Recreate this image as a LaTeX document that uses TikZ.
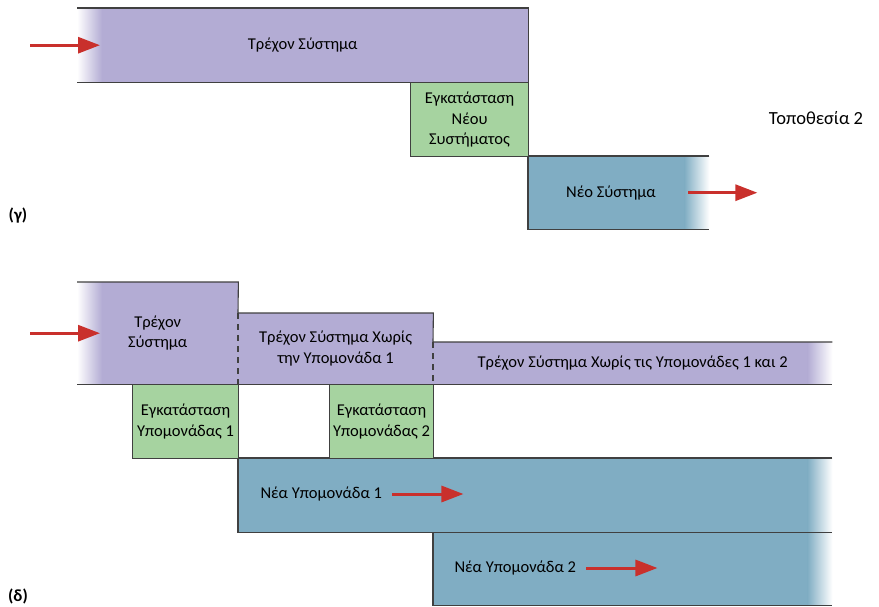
\documentclass[tikz,border=0pt]{standalone}
\usepackage{fontspec}
\setmainfont{Carlito}
\usetikzlibrary{arrows.meta,calc,positioning}
\definecolor{curfill}{HTML}{B3ACD4}
\definecolor{instfill}{HTML}{A6D3A0}
\definecolor{newfill}{HTML}{80ADC3}
\definecolor{edgegray}{HTML}{404040}
\definecolor{arrowred}{HTML}{C9302C}

\begin{document}
\begin{tikzpicture}[
  x=1pt,
  y=-1pt,
  font=\fontsize{16.5}{20.5}\selectfont,
  >={Triangle[length=22pt,width=16pt]},
  bar/.style={inner sep=0pt, anchor=north west, align=center},
  inst/.style={draw=edgegray, line width=1.1pt, fill=instfill, inner sep=1pt, anchor=north west, align=center},
  edge/.style={draw=edgegray, line width=1.1pt},
  split/.style={dash pattern=on 6pt off 5pt},
  flow/.style={->, draw=arrowred, line width=3pt},
  tag/.style={font=\fontsize{17}{20}\selectfont\bfseries}
]
  \useasboundingbox (0,0) rectangle (879,606);

  \node[bar, fill=curfill, minimum width=451pt, minimum height=74pt] (curg) at (77,8) {Τρέχον Σύστημα};
  \node[bar, fill=newfill, minimum width=181pt, minimum height=73pt] (newg) at (528,156) {};
  \shade[left color=white, right color=curfill] (curg.north west) rectangle ($(curg.south west)+(25,0)$);
  \shade[left color=newfill, right color=white] ($(newg.north east)+(-25,0)$) rectangle (newg.south east);
  \draw[edge] (curg.north west) -- (curg.north east) -- (curg.south east) -- (curg.south west);
  \draw[edge] (newg.north east) -- (newg.north west) -- (newg.south west) -- (newg.south east);
  \node[inst, minimum width=118pt, minimum height=74pt] (instg) at (410,82) {Εγκατάσταση\\Νέου\\Συστήματος};
  \node (newgt) at (611,193) {Νέο Σύστημα};
  \node[font=\fontsize{18.5}{22}\selectfont] (site) at (816,118) {Τοποθεσία 2};
  \node[tag] (tagg) at (18,216) {(γ)};
  \draw[flow] ($(curg.west)+(-47,0)$) -- ($(curg.west)+(23,0)$);
  \draw[flow] ($(newg.east)+(-21,0)$) -- ($(newg.east)+(48,0)$);

  \node[bar, fill=curfill, minimum width=161pt, minimum height=102pt] (curd1) at (77,282) {Τρέχον\\Σύστημα};
  \node[bar, fill=curfill, minimum width=195pt, minimum height=71pt] (curd2) at (238,313) {Τρέχον Σύστημα Χωρίς\\την Υπομονάδα 1};
  \node[bar, fill=curfill, minimum width=399pt, minimum height=42pt] (curd3) at (433,342) {Τρέχον Σύστημα Χωρίς τις Υπομονάδες 1 και 2};
  \node[bar, fill=newfill, minimum width=594pt, minimum height=74pt] (newd1) at (238,458) {};
  \node[bar, fill=newfill, minimum width=399pt, minimum height=73pt] (newd2) at (433,532) {};
  \shade[left color=white, right color=curfill] (curd1.north west) rectangle ($(curd1.south west)+(25,0)$);
  \shade[left color=curfill, right color=white] ($(curd3.north east)+(-25,0)$) rectangle (curd3.south east);
  \shade[left color=newfill, right color=white] ($(newd1.north east)+(-25,0)$) rectangle (newd1.south east);
  \shade[left color=newfill, right color=white] ($(newd2.north east)+(-25,0)$) rectangle (newd2.south east);
  \draw[edge] (curd1.north west) -- (curd1.north east) -- (curd2.north west) -- (curd2.north east) -- (curd3.north west) -- (curd3.north east);
  \draw[edge, split] (curd2.north west) -- (curd2.south west);
  \draw[edge, split] (curd3.north west) -- (curd3.south west);
  \draw[edge] (curd1.south west) -- (curd3.south east);
  \draw[edge] (newd1.north east) -- (newd1.north west) -- (newd1.south west) -- (newd1.south east);
  \draw[edge] (newd2.north west) -- (newd2.south west) -- (newd2.south east);
  \node[inst, minimum width=106pt, minimum height=74pt] (instd1) at (132,384) {Εγκατάσταση\\Υπομονάδας 1};
  \node[inst, minimum width=104pt, minimum height=74pt] (instd2) at (329,384) {Εγκατάσταση\\Υπομονάδας 2};
  \node[anchor=west] (newd1t) at (257,494) {Νέα Υπομονάδα 1};
  \node[anchor=west] (newd2t) at (451,568) {Νέα Υπομονάδα 2};
  \node[tag] (tagd) at (18,596) {(δ)};
  \draw[flow] ($(curd1.west)+(-47,0)$) -- ($(curd1.west)+(23,0)$);
  \draw[flow] ($(newd1t.east)+(7,0)$) -- ++(71,0);
  \draw[flow] ($(newd2t.east)+(7,0)$) -- ++(71,0);
\end{tikzpicture}
\end{document}
